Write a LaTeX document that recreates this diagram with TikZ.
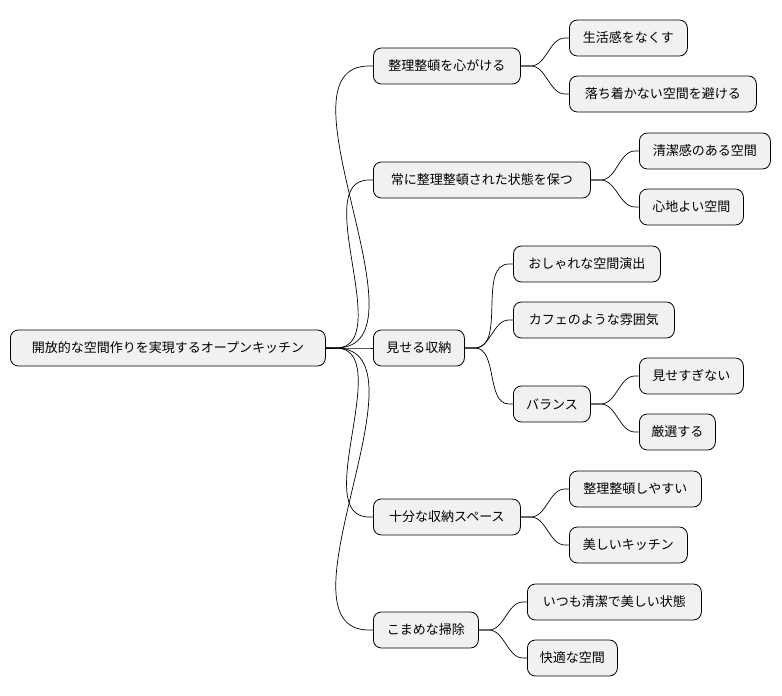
\documentclass[tikz,border=0pt]{standalone}
\usepackage{fontspec}
\setmainfont{Noto Sans CJK JP}
\definecolor{boxfill}{HTML}{F1F1F1}
\begin{document}
\begin{tikzpicture}[x=1pt,y=-1pt,
  box/.style={draw=black,line width=0.8pt,fill=boxfill,rounded corners=8pt,minimum height=36pt,inner xsep=9pt,font=\fontsize{13}{15}\selectfont,anchor=west},
  link/.style={draw=black,line width=0.7pt}]
\useasboundingbox (0,0) rectangle (782,696);
\node[box,minimum width=315pt] (r) at (10,348) {開放的な空間作りを実現するオープンキッチン};
\node[box,minimum width=147pt] (a) at (373,66) {整理整頓を心がける};
\node[box,minimum width=217pt] (b) at (373,180) {常に整理整頓された状態を保つ};
\node[box,minimum width=91pt] (c) at (373,348) {見せる収納};
\node[box,minimum width=147pt] (d) at (373,517) {十分な収納スペース};
\node[box,minimum width=105pt] (e) at (373,630) {こまめな掃除};
\node[box,minimum width=118pt] (a1) at (569,38) {生活感をなくす};
\node[box,minimum width=187pt] (a2) at (569,94) {落ち着かない空間を避ける};
\node[box,minimum width=131pt] (b1) at (639,151) {清潔感のある空間};
\node[box,minimum width=104pt] (b2) at (639,207) {心地よい空間};
\node[box,minimum width=147pt] (c1) at (513,264) {おしゃれな空間演出};
\node[box,minimum width=161pt] (c2) at (513,320) {カフェのような雰囲気};
\node[box,minimum width=77pt] (c3) at (513,404) {バランス};
\node[box,minimum width=104pt] (c31) at (639,376) {見せすぎない};
\node[box,minimum width=76pt] (c32) at (639,432) {厳選する};
\node[box,minimum width=132pt] (d1) at (569,489) {整理整頓しやすい};
\node[box,minimum width=118pt] (d2) at (569,545) {美しいキッチン};
\node[box,minimum width=174pt] (e1) at (527,602) {いつも清潔で美しい状態};
\node[box,minimum width=90pt] (e2) at (527,658) {快適な空間};
\foreach \p/\c in {r/a,r/b,r/c,r/d,r/e,a/a1,a/a2,b/b1,b/b2,c/c1,c/c2,c/c3,c3/c31,c3/c32,d/d1,d/d2,e/e1,e/e2}{
  \draw[link] (\p.east) -- ++(10,0) to[out=0,in=180,looseness=0.9] ([xshift=-4pt]\c.west) -- (\c.west);
}
\end{tikzpicture}
\end{document}
